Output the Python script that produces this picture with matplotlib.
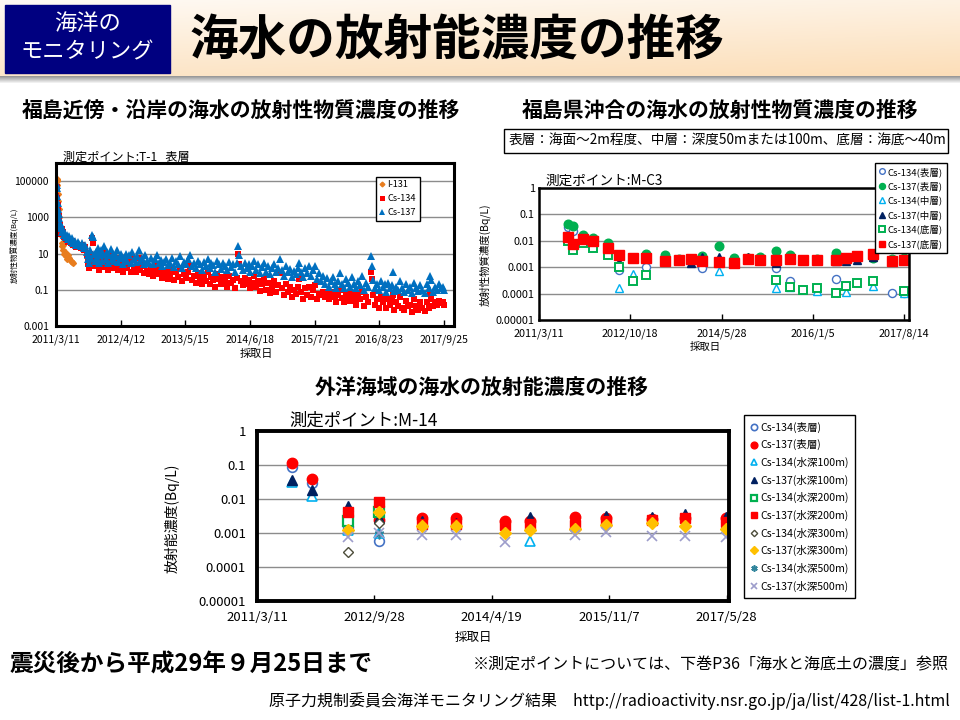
import numpy as np
import pandas as pd
import matplotlib
matplotlib.use('Agg')
import matplotlib.pyplot as plt
from matplotlib.patches import Rectangle

plt.rcParams['font.family'] = ['Noto Sans CJK JP', 'DejaVu Sans']

nan = np.nan
BASE = pd.Timestamp('2011-03-11')

# ---------------- T-1 (days after 2011/3/11, Bq/L) ----------------
t1_days = [0, 1, 3, 5, 7, 9, 11, 13, 16, 19,
           22, 26, 30, 35, 40, 45, 50, 56, 62, 68,
           75, 82, 90, 98, 106, 115, 124, 133, 142, 151,
           160, 170, 180, 190, 195, 200, 205, 210, 216, 222,
           226, 232, 238, 244, 250, 257, 263, 270, 277, 284,
           291, 298, 305, 312, 320, 328, 336, 344, 352, 360,
           368, 376, 384, 392, 400, 410, 420, 430, 440, 450,
           460, 470, 480, 490, 500, 510, 520, 530, 540, 550,
           560, 572, 584, 596, 608, 620, 632, 644, 656, 668,
           680, 692, 704, 716, 728, 740, 752, 764, 776, 788,
           800, 812, 825, 838, 850, 862, 874, 886, 898, 910,
           922, 934, 946, 958, 970, 982, 994, 1006, 1018, 1030,
           1042, 1054, 1066, 1078, 1090, 1102, 1114, 1120, 1126, 1138,
           1150, 1162, 1174, 1186, 1198, 1210, 1222, 1234, 1246, 1258,
           1270, 1282, 1294, 1306, 1318, 1330, 1342, 1354, 1366, 1380,
           1392, 1404, 1416, 1428, 1440, 1452, 1464, 1476, 1488, 1500,
           1512, 1524, 1536, 1548, 1560, 1572, 1584, 1596, 1608, 1620,
           1632, 1644, 1656, 1668, 1680, 1692, 1704, 1716, 1728, 1740,
           1752, 1764, 1776, 1788, 1800, 1812, 1824, 1836, 1848, 1860,
           1872, 1884, 1896, 1908, 1920, 1940, 1944, 1952, 1964, 1976,
           1988, 2000, 2012, 2024, 2036, 2048, 2060, 2072, 2076, 2084,
           2096, 2108, 2120, 2132, 2144, 2156, 2168, 2180, 2192, 2204,
           2216, 2228, 2240, 2252, 2276, 2288, 2300, 2304, 2312, 2324,
           2336, 2348, 2360, 2372, 2384, 2390]
t1_cs137 = [300, 3000, 20000, 60000, 40000, 15000, 6000, 3000, 1500, 900,
            500, 400, 250, 300, 150, 200, 100, 120, 80, 100,
            60, 90, 50, 70, 40, 50, 30, 45, 35, 25,
            40, 20, 30, 12, 5, 8, 3, 15, 6, 100,
            80, 10, 4, 12, 6, 20, 3, 8, 15, 4,
            10, 25, 5, 12, 3, 8, 18, 5, 10, 4,
            7, 15, 3.5, 6, 9, 2.5, 6, 10, 4, 8,
            3, 12, 5, 3.5, 7, 15, 4, 6, 2.5, 8,
            4, 3, 6, 2.5, 5, 8, 3, 4.5, 2, 3.5,
            5, 2.2, 3, 6, 1.8, 4, 2.5, 7, 1.6, 3.5,
            2.5, 5, 8, 2, 3, 1.5, 4, 2.5, 1.2, 3.5,
            2, 5, 1.5, 3, 2.2, 1, 4, 2.5, 1.4, 3,
            2, 1.2, 3.5, 1.8, 2.5, 1, 3, 25, 8, 2,
            1.3, 3, 1.6, 2.5, 1, 2, 4, 1.3, 2.5, 0.8,
            1.8, 3, 1, 2, 0.7, 1.5, 2.5, 0.9, 1.6, 5,
            1.2, 0.6, 2, 0.9, 1.4, 0.5, 1.1, 0.7, 1.6, 3,
            1, 0.5, 1.5, 0.8, 2, 0.6, 1.2, 2, 0.4, 0.8,
            0.3, 0.6, 0.2, 0.45, 0.15, 0.3, 0.5, 0.2, 0.12, 0.3,
            0.8, 0.2, 0.12, 0.4, 0.25, 0.15, 0.5, 0.2, 0.12, 0.3,
            0.18, 0.6, 0.1, 0.25, 0.15, 7, 2, 0.35, 0.12, 0.2,
            0.1, 0.3, 0.15, 0.2, 0.08, 0.25, 0.12, 0.18, 1.0, 0.09,
            0.15, 0.1, 0.3, 0.12, 0.08, 0.2, 0.1, 0.15, 0.07, 0.25,
            0.12, 0.09, 0.18, 0.1, 0.07, 0.2, 0.12, 0.6, 0.35, 0.08,
            0.15, 0.1, 0.2, 0.12, 0.15, 0.1]
t1_cs134 = [120, 2500, 15000, 50000, 35000, 12000, 5000, 2500, 1200, 700,
            400, 300, 200, 220, 120, 150, 80, 90, 60, 70,
            45, 60, 40, 50, 30, 35, 22, 30, 25, 20,
            28, 15, 22, 8, 2.5, 4, 1.5, 9, 3, 70,
            40, 5, 2, 6, 2.5, 10, 1.3, 4, 7, 1.8,
            5, 12, 2.2, 6, 1.2, 3.5, 9, 2, 4, 1.5,
            3, 6, 1.3, 2.5, 3.5, 1, 2, 4, 1.5, 3,
            1, 5, 1.8, 1, 2.2, 6, 1.2, 2, 0.8, 2.5,
            1.1, 0.7, 1.5, 0.6, 1.2, 2, 0.7, 1, 0.45, 0.8,
            1.1, 0.4, 0.6, 1.3, 0.35, 0.9, 0.5, 1.5, 0.3, 0.7,
            0.45, 1, 2, 0.35, 0.6, 0.25, 0.8, 0.4, 0.2, 0.6,
            0.3, 1, 0.2, 0.5, 0.35, 0.15, 0.7, 0.4, 0.2, 0.5,
            0.3, 0.15, 0.6, 0.25, 0.35, 0.12, 0.45, 10, 2.5, 0.3,
            0.18, 0.45, 0.2, 0.35, 0.12, 0.25, 0.6, 0.15, 0.3, 0.09,
            0.2, 0.45, 0.1, 0.25, 0.07, 0.15, 0.3, 0.08, 0.18, 0.8,
            0.12, 0.05, 0.2, 0.08, 0.15, 0.04, 0.1, 0.06, 0.15, 0.4,
            0.08, 0.03, 0.12, 0.05, 0.15, 0.04, 0.1, 0.18, 0.03, 0.06,
            0.05, 0.08, 0.04, 0.07, 0.03, 0.05, 0.08, 0.04, 0.02, 0.05,
            0.1, 0.035, 0.02, 0.06, 0.04, 0.025, 0.07, 0.03, 0.015, 0.05,
            0.03, 0.08, 0.012, 0.04, 0.02, 1, 0.4, 0.05, 0.015, 0.03,
            0.01, 0.04, 0.02, 0.03, 0.01, 0.03, 0.015, 0.025, 0.05, 0.008,
            0.02, 0.012, 0.04, 0.01, 0.008, 0.025, 0.012, 0.015, 0.006, 0.03,
            0.012, 0.008, 0.02, 0.01, 0.007, 0.02, 0.01, 0.06, 0.03, 0.012,
            0.02, 0.015, 0.025, 0.018, 0.02, 0.015]
t1_i131_days = [0, 2, 4, 5, 6, 8, 10, 13, 16, 20, 25, 30, 35, 38, 42,
                46, 50, 55, 60, 66, 72, 80, 90, 100, 106]
t1_i131 = [1000, 20000, 100000, 130000, 110000, 60000, 20000, 8000, 3000, 1000,
           300, 100, 40, 25, 30, 15, 10, 12, 7, 5, 8, 6, 4, 3.5, 3]
t1_xlabels = ['2011/3/11', '2012/4/12', '2013/5/15', '2014/6/18',
              '2015/7/21', '2016/8/23', '2017/9/25']
t1_yvals = [1e-3, 1e-1, 1e1, 1e3, 1e5]
t1_ylabels = ['0.001', '0.1', '10', '1000', '100000']

# ---------------- M-C3 ----------------
mc3_days = [187, 219, 283, 347, 444, 514, 604, 688, 810, 900, 977, 1048, 1158,
            1254, 1344, 1421, 1524, 1614, 1698, 1788, 1910, 1974, 2045, 2148, 2270, 2347]
mc3_cs134_surf = [0.032, 0.024, nan, nan, 0.004, 0.00075, nan, 0.001, nan, nan, nan, 0.0009, nan,
                  nan, nan, nan, 0.0009, 0.0003, nan, nan, 0.00037, nan, nan, nan, 0.00011, 0.00011]
mc3_cs137_surf = [0.042, 0.035, 0.016, 0.013, 0.0085, nan, nan, 0.0031, 0.0029, 0.002, 0.0019, 0.0027, 0.0065,
                  0.0022, 0.0022, 0.0024, 0.0041, 0.0029, 0.0019, 0.002, 0.0034, 0.002, 0.0025, 0.0022, 0.002, 0.0023]
mc3_cs134_mid = [nan, nan, nan, nan, nan, 0.00016, 0.00055, nan, nan, nan, nan, nan, 0.0007,
                 nan, nan, nan, 0.00016, 0.00018, nan, 0.00013, nan, 0.00012, nan, 0.0002, nan, 0.00011]
mc3_cs137_mid = [nan, nan, nan, nan, 0.006, 0.0016, 0.0022, nan, nan, nan, 0.0014, 0.0025, 0.0024,
                 nan, 0.0024, nan, 0.0014, nan, nan, nan, 0.0017, 0.0017, 0.0018, 0.0024, nan, 0.0021]
mc3_cs134_bot = [0.01, 0.0045, 0.0085, 0.0055, 0.0028, 0.001, 0.0003, 0.00052, nan, nan, nan, nan, nan,
                 nan, nan, nan, 0.00032, 0.00018, 0.00014, 0.00017, 0.00011, 0.0002, 0.00025, 0.0003, nan, 0.00013]
mc3_cs137_bot = [0.014, 0.0073, 0.012, 0.0095, 0.0055, 0.003, 0.0022, 0.0022, 0.0017, 0.0019, 0.002, 0.0017, 0.0016,
                 0.0014, 0.0021, 0.0019, 0.0019, 0.002, 0.0018, 0.0019, 0.0019, 0.0022, 0.0027, 0.0032, 0.0017, 0.0019]
mc3_labels = ['Cs-134(表層)', 'Cs-137(表層)', 'Cs-134(中層)', 'Cs-137(中層)', 'Cs-134(底層)', 'Cs-137(底層)']
mc3_xlabels = ['2011/3/11', '2012/10/18', '2014/5/28', '2016/1/5', '2017/8/14']

# ---------------- M-14 ----------------
m14_days = [169, 265, 440, 590, 797, 962, 1199, 1320, 1537, 1687, 1909, 2069, 2267]
m14_cs134_surf = [0.09, 0.03, 0.0015, 0.00058, nan, nan, nan, nan, nan, nan, nan, nan, nan]
m14_cs137_surf = [0.115, 0.038, nan, 0.0024, 0.0028, 0.0028, 0.0023, 0.0023, 0.003, 0.0028, 0.0025, 0.0028, 0.0028]
m14_cs134_100 = [0.032, 0.012, 0.0012, 0.001, nan, nan, nan, 0.00058, nan, nan, nan, nan, nan]
m14_cs137_100 = [0.036, 0.018, 0.0062, 0.0027, 0.0023, 0.002, nan, 0.0029, nan, 0.0031, 0.003, 0.0036, 0.003]
m14_cs134_200 = [nan, nan, 0.0022, 0.0042, nan, nan, nan, nan, nan, nan, nan, nan, nan]
m14_cs137_200 = [nan, nan, 0.0042, 0.0082, 0.0019, 0.0019, 0.0017, 0.0018, 0.0017, 0.0022, 0.0024, 0.0028, 0.0021]
m14_cs134_300 = [nan, nan, 0.00028, 0.002, nan, nan, nan, nan, nan, nan, nan, nan, nan]
m14_cs137_300 = [nan, nan, 0.0012, 0.0042, 0.0016, 0.0016, 0.00098, 0.0012, 0.0013, 0.0017, 0.002, 0.0016, 0.0013]
m14_cs134_500 = [nan, nan, nan, 0.00095, nan, nan, nan, nan, nan, nan, nan, nan, nan]
m14_cs137_500 = [nan, nan, 0.00076, 0.001, 0.00088, 0.0009, 0.00055, nan, 0.00088, 0.0011, 0.00082, 0.00082, 0.00076]
m14_labels = ['Cs-134(表層)', 'Cs-137(表層)', 'Cs-134(水深100m)', 'Cs-137(水深100m)',
              'Cs-134(水深200m)', 'Cs-137(水深200m)', 'Cs-134(水深300m)', 'Cs-137(水深300m)',
              'Cs-134(水深500m)', 'Cs-137(水深500m)']
m14_xlabels = ['2011/3/11', '2012/9/28', '2014/4/19', '2015/11/7', '2017/5/28']

small_yvals = [1e-5, 1e-4, 1e-3, 1e-2, 1e-1, 1]
small_ylabels = ['0.00001', '0.0001', '0.001', '0.01', '0.1', '1']

W, H = 960, 720
fig = plt.figure(figsize=(9.6, 7.2), dpi=100)


def rect(x0, y0, x1, y1):
    # pixel box (top-left origin) -> figure fraction
    return [x0 / W, 1 - y1 / H, (x1 - x0) / W, (y1 - y0) / H]


def txt(x, y, s, **kw):
    fig.text(x / W, 1 - y / H, s, **kw)


def style_axes(ax, yvals, ylabels, ytop, xlabels, xmax, fs, lw, ypad, xpad):
    ax.set_yscale('log')
    ax.set_yticks(yvals, ylabels)
    ax.minorticks_off()
    ax.set_ylim(yvals[0], ytop)
    ax.yaxis.grid(True, color='#8c8c8c', lw=1)
    ax.set_axisbelow(True)
    pos = [(pd.Timestamp(s) - BASE).days for s in xlabels]
    ax.set_xticks(pos, xlabels)
    ax.set_xlim(0, xmax)
    ax.tick_params(axis='x', direction='in', length=4, width=1, labelsize=fs, pad=xpad)
    ax.tick_params(axis='y', length=0, labelsize=fs, pad=ypad)
    for s in ax.spines.values():
        s.set_linewidth(lw)


# ---------------- header / background ----------------
bg = fig.add_axes([0, 0, 1, 1], zorder=0)
yy, xx = np.mgrid[0:1:60j, 0:1:200j]
f = np.clip(0.15 + 0.6 * yy + 0.25 * xx, 0, 1)
peach = np.array([252, 222, 184]) / 255
img = 1 - f[..., None] * (1 - peach)
bg.imshow(img, extent=(0, W, 76, 0), aspect='auto', interpolation='bilinear')
shade = np.linspace(0.6, 1, 8)[:, None, None] * np.ones((1, 2, 3))
bg.imshow(shade, extent=(0, W, 84, 76), aspect='auto', interpolation='bilinear')
bg.set_xlim(0, W)
bg.set_ylim(H, 0)
bg.axis('off')
bg.add_patch(Rectangle((5, 5), 165, 68, color='#000080'))
bg.text(87, 23, '海洋の', color='white', fontsize=16, ha='center', va='center')
bg.text(87, 52, 'モニタリング', color='white', fontsize=16, ha='center', va='center')
bg.text(190, 40, '海水の放射能濃度の推移', fontsize=35, fontweight='bold', ha='left', va='center')

txt(241, 110, '福島近傍・沿岸の海水の放射性物質濃度の推移', fontsize=15, fontweight='bold', ha='center', va='center')
txt(720, 110, '福島県沖合の海水の放射性物質濃度の推移', fontsize=15, fontweight='bold', ha='center', va='center')
txt(482, 387, '外洋海域の海水の放射能濃度の推移', fontsize=15, fontweight='bold', ha='center', va='center')

# ---------------- chart 1: T-1 ----------------
ax1 = fig.add_axes(rect(56, 163, 454, 326))
ax1.plot(t1_i131_days, t1_i131, ls='none', marker='D', ms=3, color='#E87D1E', label='I-131')
ax1.plot(t1_days, t1_cs134, ls='none', marker='s', ms=4.5, color='#FF0000', mew=0, label='Cs-134')
ax1.plot(t1_days, t1_cs137, ls='none', marker='^', ms=5.3, color='#0070C0', mew=0, label='Cs-137')
style_axes(ax1, t1_yvals, t1_ylabels, 1e6, t1_xlabels, 2452, 7.5, 2.2, 5, 6)
ax1.legend(loc='upper left', bbox_to_anchor=(371 / W, 1 - 172 / H), bbox_transform=fig.transFigure,
           fontsize=6.6, frameon=True, fancybox=False, edgecolor='black', framealpha=1,
           handlelength=0.6, handletextpad=0.3, labelspacing=0.55, borderpad=0.4, markerscale=0.8)
txt(63, 157, '測定ポイント:T-1   表層', fontsize=8.7, ha='left', va='center')
txt(14, 245, '放射性物質濃度(Bq/L)', fontsize=5.5, rotation=90, ha='center', va='center')
txt(256, 354, '採取日', fontsize=8, ha='center', va='center')

# ---------------- chart 2: M-C3 ----------------
ax2 = fig.add_axes(rect(539, 188, 909, 320))
mc3_series = [mc3_cs134_surf, mc3_cs137_surf, mc3_cs134_mid, mc3_cs137_mid, mc3_cs134_bot, mc3_cs137_bot]
mc3_styles = [dict(marker='o', mfc='white', mec='#4472C4', mew=1.0, ms=5.8),
              dict(marker='o', mfc='#00B050', mec='#00B050', ms=6.2),
              dict(marker='^', mfc='white', mec='#00B0F0', mew=1.0, ms=5.8),
              dict(marker='^', mfc='#002060', mec='#002060', ms=5.8),
              dict(marker='s', mfc='white', mec='#00B050', mew=1.4, ms=5.8),
              dict(marker='s', mfc='#FF0000', mec='#FF0000', ms=6.5)]
for vals, lab, st in zip(mc3_series, mc3_labels, mc3_styles):
    ax2.plot(mc3_days, vals, ls='none', label=lab, **st)
style_axes(ax2, small_yvals, small_ylabels, 1, mc3_xlabels, 2380, 7.8, 1.8, 3, 6)
ax2.legend(loc='upper right', bbox_to_anchor=(952 / W, 1 - 158 / H), bbox_transform=fig.transFigure,
           fontsize=6.8, frameon=True, fancybox=False, edgecolor='black', framealpha=1,
           handlelength=0.6, handletextpad=0.3, labelspacing=0.5, borderpad=0.45, markerscale=0.7)
txt(545, 181, '測定ポイント:M-C3', fontsize=9.8, ha='left', va='center')
txt(485, 255, '放射性物質濃度(Bq/L)', fontsize=7.5, rotation=90, ha='center', va='center')
txt(705, 347, '採取日', fontsize=7.5, ha='center', va='center')

# note box
bg.add_patch(Rectangle((504, 129), 444, 24, facecolor='white', edgecolor='black', lw=1))
bg.text(509, 141, '表層：海面～2m程度、中層：深度50mまたは100m、底層：海底～40m',
        fontsize=9.8, ha='left', va='center')

# ---------------- chart 3: M-14 ----------------
ax3 = fig.add_axes(rect(257, 431, 729, 601))
m14_series = [m14_cs134_surf, m14_cs137_surf, m14_cs134_100, m14_cs137_100, m14_cs134_200,
              m14_cs137_200, m14_cs134_300, m14_cs137_300, m14_cs134_500, m14_cs137_500]
m14_styles = [dict(marker='o', mfc='white', mec='#4472C4', mew=1.2, ms=7),
              dict(marker='o', mfc='#FF0000', mec='#FF0000', ms=7.5),
              dict(marker='^', mfc='white', mec='#00B0F0', mew=1.2, ms=7),
              dict(marker='^', mfc='#002060', mec='#002060', ms=7),
              dict(marker='s', mfc='white', mec='#00B050', mew=1.6, ms=7),
              dict(marker='s', mfc='#FF0000', mec='#FF0000', ms=7.5),
              dict(marker='D', mfc='white', mec='#4D4D3A', mew=1.0, ms=5),
              dict(marker='D', mfc='#FFC000', mec='#FFC000', ms=6),
              dict(marker=(6, 2, 0), color='#31859C', mew=1.2, ms=7),
              dict(marker='x', color='#9D9DCB', mew=1.2, ms=6.5)]
for vals, lab, st in zip(m14_series, m14_labels, m14_styles):
    ax3.plot(m14_days, vals, ls='none', label=lab, **st)
style_axes(ax3, small_yvals, small_ylabels, 1, m14_xlabels, 2282, 9.5, 2.8, 8, 7)
ax3.legend(loc='upper left', bbox_to_anchor=(739 / W, 1 - 410 / H), bbox_transform=fig.transFigure,
           fontsize=7.6, frameon=True, fancybox=False, edgecolor='black', framealpha=1,
           handlelength=0.6, handletextpad=0.3, labelspacing=0.62, borderpad=0.6, markerscale=0.65)
txt(289, 421, '測定ポイント:M-14', fontsize=12.5, ha='left', va='center')
txt(172, 518, '放射能濃度(Bq/L)', fontsize=10, rotation=90, ha='center', va='center')
txt(473, 638, '採取日', fontsize=9, ha='center', va='center')

# ---------------- footer ----------------
txt(10, 665, '震災後から平成29年９月25日まで', fontsize=17, fontweight='bold', ha='left', va='center')
txt(949, 665, '※測定ポイントについては、下巻P36「海水と海底土の濃度」参照', fontsize=11.5, ha='right', va='center')
txt(950, 701, '原子力規制委員会海洋モニタリング結果　http://radioactivity.nsr.go.jp/ja/list/428/list-1.html',
    fontsize=11.5, ha='right', va='center')

fig.savefig('out.png', dpi=100)
